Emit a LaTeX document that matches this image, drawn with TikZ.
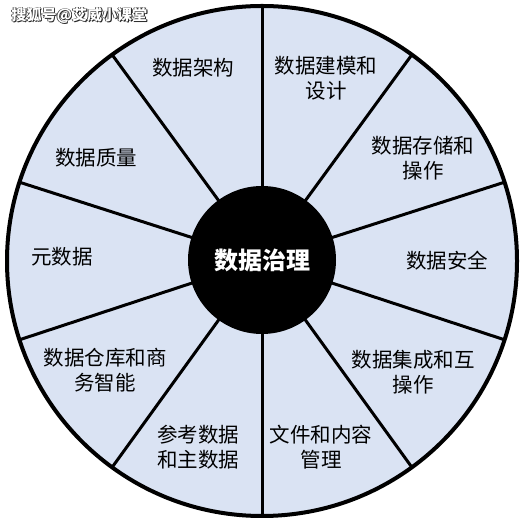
\documentclass[tikz,border=0pt]{standalone}
\usepackage{fontspec}
\newfontfamily\cjk{Noto Sans CJK SC}
\usetikzlibrary{positioning}
\definecolor{wheelblue}{RGB}{218,227,243}
\newcommand\haloed[1]{\leavevmode\rlap{\color{black!85}\kern.9pt\raisebox{-.9pt}{#1}}\rlap{\color{black!85}\kern-.7pt\raisebox{.7pt}{#1}}\rlap{\color{black!85}\kern.9pt\raisebox{.7pt}{#1}}\textcolor{white}{#1}}
\tikzset{
  area/.style={font=\cjk\fontsize{20.5}{25}\selectfont, align=center, text=black},
  divider/.style={line width=3pt, black},
}

\begin{document}
\begin{tikzpicture}[x=1pt,y=1pt]

  \useasboundingbox (0,0) rectangle (524,524);

  % Wheel and spokes
  \node[circle, draw, line width=4pt, fill=wheelblue, minimum size=510pt,
        inner sep=0pt, outer sep=0pt] (wheel) at (262,263) {};
  \coordinate (mid) at (262,264);
  \foreach \a in {90,54,18,-18,-54,-90,-126,-162,162,126}
    \draw[divider] (mid) -- (wheel.\a);
  \node[circle, fill=black, minimum size=148pt, inner sep=0pt,
        font=\cjk\bfseries\fontsize{24}{28}\selectfont, text=white] (hub) at (mid) {数据治理};

  % Define nodes
  \node[area] (arch)    at (193,456) {数据架构};
  \node[area] (model)   at (326,446) {数据建模和\\设计};
  \node[area] (store)   at (423,366) {数据存储和\\操作};
  \node[area] (secure)  at (447,263) {数据安全};
  \node[area] (integ)   at (413,152) {数据集成和互\\操作};
  \node[area] (docs)    at (321,77)  {文件和内容\\管理};
  \node[area] (master)  at (198,77)  {参考数据\\和主数据};
  \node[area] (bi)      at (105,154) {数据仓库和商\\务智能};
  \node[area] (meta)    at (62,267)  {元数据};
  \node[area] (quality) at (96,366)  {数据质量};

  % Watermark
  \node[font=\cjk\bfseries\fontsize{15}{18}\selectfont, anchor=west] (mark) at (8,508) {\haloed{搜狐号@艾威小课堂}};

\end{tikzpicture}
\end{document}
